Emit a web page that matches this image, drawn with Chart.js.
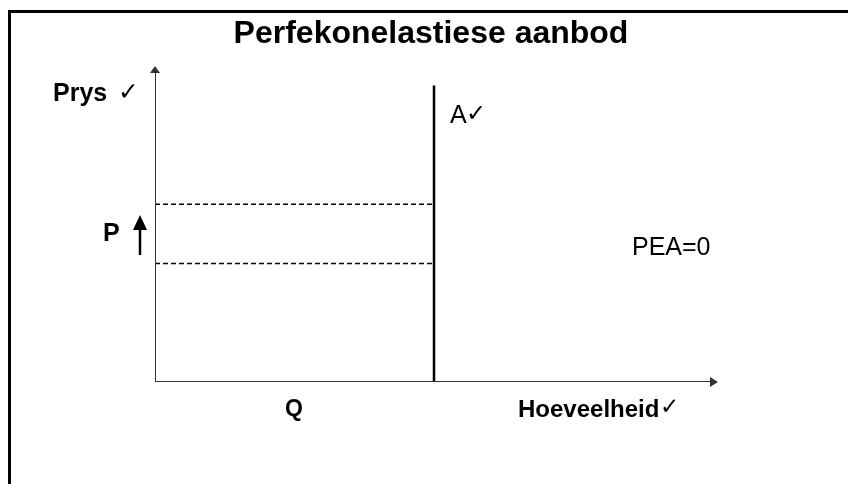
<!DOCTYPE html>
<html>
<head>
<meta charset="utf-8">
<script src="https://cdn.jsdelivr.net/npm/chart.js@4.4.1/dist/chart.umd.min.js"></script>
<style>
  html, body { margin: 0; padding: 0; background: #fff; }
  #wrap { position: relative; width: 848px; height: 484px; }
</style>
</head>
<body>
<div id="wrap"><canvas id="chart" width="848" height="484"></canvas></div>
<script>
// --- Data ------------------------------------------------------------------
var axisMax = [100, 100];           // quantity max, price max
var supplyQ = [50, 50];             // perfectly inelastic supply: fixed quantity
var supplyP = [0, 95];
var priceLevels = [57, 38];         // old / new price (dashed)
var dashQ = [0, 50];

var titleText = 'Perfekonelastiese aanbod';
var FONT = '"Liberation Sans", Arial, Helvetica, sans-serif';
var CHECK = '"DejaVu Sans", sans-serif';

function pts(xs, ys){
  return xs.map(function(x, i){ return { x: x, y: ys[i] }; });
}

var datasets = [
  { data: pts([0, 0], [0, axisMax[1]]), borderColor: '#333', borderWidth: 2 },
  { data: pts([0, axisMax[0]], [0, 0]), borderColor: '#333', borderWidth: 2 },
  { data: pts(supplyQ, supplyP), borderColor: '#000', borderWidth: 2.5 }
];
priceLevels.forEach(function(p){
  datasets.push({ data: pts(dashQ, [p, p]), borderColor: '#000', borderWidth: 1.5, borderDash: [5, 3] });
});
datasets.forEach(function(d){
  d.showLine = true; d.pointRadius = 0; d.fill = false; d.tension = 0;
});

// --- Annotations plugin ------------------------------------------------------
var annotate = {
  id: 'annotate',
  afterDraw: function(chart){
    var c = chart.ctx, xs = chart.scales.x, ys = chart.scales.y;
    var x0 = xs.getPixelForValue(0), y0 = ys.getPixelForValue(0);
    var xm = xs.getPixelForValue(axisMax[0]), ym = ys.getPixelForValue(axisMax[1]);
    c.save();

    // outer frame (top + left)
    c.strokeStyle = '#000'; c.lineWidth = 3;
    c.beginPath(); c.moveTo(9.5, 484); c.lineTo(9.5, 11.5); c.lineTo(848, 11.5); c.stroke();

    // axis arrowheads
    c.fillStyle = '#333';
    c.beginPath(); c.moveTo(x0, ym - 4); c.lineTo(x0 - 5, ym + 3); c.lineTo(x0 + 5, ym + 3); c.closePath(); c.fill();
    c.beginPath(); c.moveTo(xm + 5, y0); c.lineTo(xm - 3, y0 - 5); c.lineTo(xm - 3, y0 + 5); c.closePath(); c.fill();

    // price-rise arrow next to P
    c.fillStyle = '#000'; c.strokeStyle = '#000'; c.lineWidth = 2.5;
    c.beginPath(); c.moveTo(140, 255); c.lineTo(140, 222); c.stroke();
    c.beginPath(); c.moveTo(140, 215); c.lineTo(133, 230); c.lineTo(147, 230); c.closePath(); c.fill();

    // texts
    c.fillStyle = '#000'; c.textBaseline = 'alphabetic';
    c.textAlign = 'center';
    c.font = 'bold 32px ' + FONT;
    c.fillText(titleText, 431, 43);

    c.textAlign = 'left';
    c.font = 'bold 25px ' + FONT;
    c.fillText('Prys', 53, 101);
    c.fillText('P', 103, 241);
    c.font = 'bold 25px ' + CHECK;
    c.fillText('\u2713', 118, 100);
    c.font = 'bold 23px ' + FONT;
    c.fillText('Q', 285, 416);
    c.font = 'bold 24px ' + FONT;
    c.fillText('Hoeveelheid', 518, 417);
    c.font = 'bold 23px ' + CHECK;
    c.fillText('\u2713', 660, 414);
    c.font = '25px ' + FONT;
    c.fillText('A', 450, 123);
    c.fillText('PEA=0', 632, 255);
    c.font = '24px ' + CHECK;
    c.fillText('\u2713', 466, 121);
    c.restore();
  }
};

new Chart(document.getElementById('chart').getContext('2d'), {
  type: 'scatter',
  data: { datasets: datasets },
  options: {
    responsive: false,
    animation: false,
    layout: { padding: { left: 155, right: 135, top: 70, bottom: 102 } },
    scales: {
      x: { type: 'linear', min: 0, max: axisMax[0], display: false },
      y: { type: 'linear', min: 0, max: axisMax[1], display: false }
    },
    plugins: { legend: { display: false }, tooltip: { enabled: false }, title: { display: false } }
  },
  plugins: [annotate]
});
</script>
</body>
</html>
